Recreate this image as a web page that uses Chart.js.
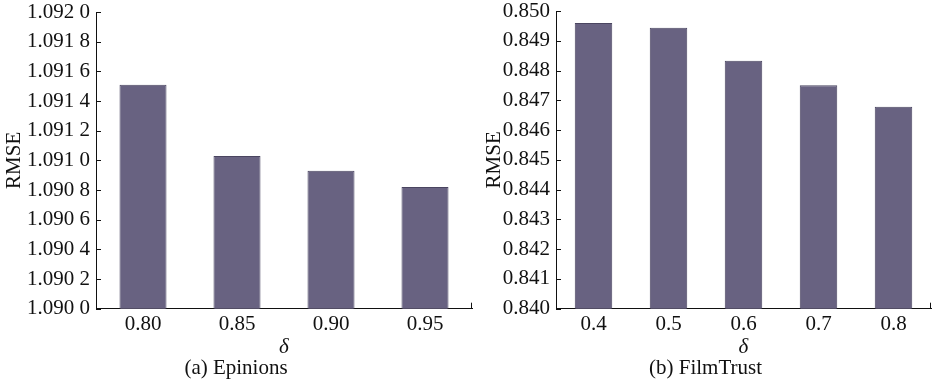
<!DOCTYPE html>
<html>
<head>
<meta charset="utf-8">
<script src="https://cdn.jsdelivr.net/npm/chart.js@4"></script>
<style>
  body { margin: 0; background: #fff; }
  .box { position: absolute; top: 0; height: 383px; }
</style>
</head>
<body>
<div class="box" style="left:0;width:480px"><canvas id="epinions"></canvas></div>
<div class="box" style="left:480px;width:453px"><canvas id="filmtrust"></canvas></div>
<script>
// data
var epinionsDelta = ['0.80', '0.85', '0.90', '0.95'];
var epinionsRmse = [1.09151, 1.09103, 1.09093, 1.09082];
var epinionsTicks = [1.0900, 1.0920, 0.0002];

var filmtrustDelta = ['0.4', '0.5', '0.6', '0.7', '0.8'];
var filmtrustRmse = [0.84960, 0.84944, 0.84833, 0.84751, 0.84678];
var filmtrustTicks = [0.840, 0.850, 0.001];

var barColor = '#686281';
var font = 'Liberation Serif';
Chart.defaults.font.family = font;
Chart.defaults.color = '#111';

// short tick marks pointing into the plot, plus the little tick at the x axis end
var innerTicks = {
    id: 'innerTicks',
    afterDraw: function (chart) {
        var ctx = chart.ctx, a = chart.chartArea, y = chart.scales.y;
        ctx.save();
        ctx.strokeStyle = '#111';
        ctx.lineWidth = 1;
        ctx.beginPath();
        y.ticks.forEach(function (t) {
            var py = Math.round(y.getPixelForValue(t.value)) + 0.5;
            ctx.moveTo(a.left, py);
            ctx.lineTo(a.left + 5, py);
        });
        ctx.moveTo(a.right - 0.5, a.bottom);
        ctx.lineTo(a.right - 0.5, a.bottom - 6);
        ctx.stroke();
        ctx.restore();
    }
};

function makeChart(id, labels, values, ticks, decimals, axisWidth, caption, padTop, padRight) {
    var ctx = document.getElementById(id).getContext('2d');
    return new Chart(ctx, {
        type: 'bar',
        data: {
            labels: labels,
            datasets: [{
                data: values,
                backgroundColor: barColor,
                borderColor: '#4a4560',
                borderWidth: 1,
                categoryPercentage: 1,
                barPercentage: 0.5
            }]
        },
        options: {
            responsive: true,
            maintainAspectRatio: false,
            animation: false,
            layout: { padding: { top: padTop, right: padRight, left: 0, bottom: 0 } },
            plugins: {
                legend: { display: false },
                tooltip: { enabled: false },
                title: {
                    display: true,
                    position: 'bottom',
                    text: caption,
                    color: '#111',
                    font: { size: 21, weight: 'normal', lineHeight: 1.1 },
                    padding: { top: -4, bottom: 3 }
                }
            },
            scales: {
                x: {
                    grid: { display: false, drawTicks: false },
                    border: { display: true, color: '#111', width: 1 },
                    ticks: { font: { size: 21, lineHeight: 1.1 }, color: '#111', padding: 4 },
                    title: {
                        display: true,
                        text: 'δ',
                        color: '#111',
                        font: { size: 21, style: 'italic', lineHeight: 1.1 },
                        padding: { top: -4, bottom: 2 }
                    }
                },
                y: {
                    min: ticks[0],
                    max: ticks[1],
                    afterFit: function (s) {
                        s.width = axisWidth;
                        s.paddingTop = 0;
                        s.paddingBottom = 0;
                    },
                    grid: { drawOnChartArea: false, drawTicks: false },
                    border: { display: true, color: '#111', width: 1 },
                    ticks: {
                        stepSize: ticks[2],
                        font: { size: 21 },
                        color: '#111',
                        padding: 6,
                        callback: function (v) {
                            var s = Number(v).toFixed(decimals);
                            if (decimals === 4) s = s.slice(0, -1) + ' ' + s.slice(-1);
                            return s;
                        }
                    },
                    title: {
                        display: true,
                        text: 'RMSE',
                        color: '#111',
                        font: { size: 21 },
                        padding: { top: 2, bottom: 0 }
                    }
                }
            }
        },
        plugins: [innerTicks]
    });
}

makeChart('epinions', epinionsDelta, epinionsRmse, epinionsTicks, 4, 96, '(a) Epinions', 12, 8);
makeChart('filmtrust', filmtrustDelta, filmtrustRmse, filmtrustTicks, 3, 76, '(b) FilmTrust', 11, 2);
</script>
</body>
</html>
